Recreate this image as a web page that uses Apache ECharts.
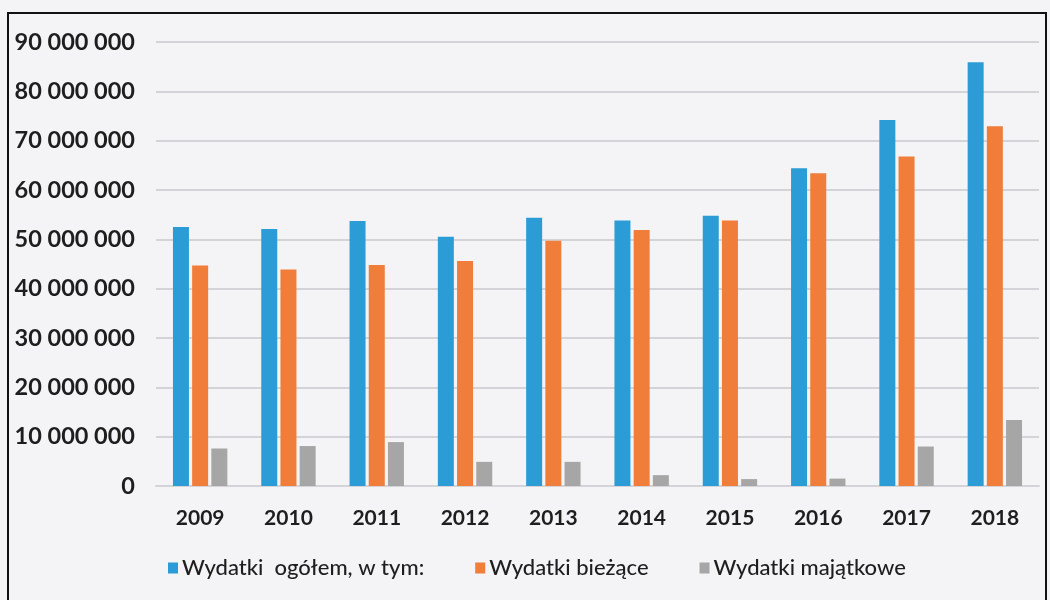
<!DOCTYPE html>
<html>
<head>
<meta charset="utf-8">
<script src="https://cdn.jsdelivr.net/npm/echarts@6/dist/echarts.min.js"></script>
<style>
html,body{margin:0;padding:0;background:#f4f4f6;}
#chart{width:1050px;height:600px;}
</style>
</head>
<body>
<div id="chart"></div>
<script>
const years = ['2009','2010','2011','2012','2013','2014','2015','2016','2017','2018'];
const seriesNames = ['Wydatki  ogółem, w tym:', 'Wydatki bieżące', 'Wydatki majątkowe'];
const totalExp = [52500000, 52100000, 53700000, 50500000, 54400000, 53800000, 54800000, 64400000, 74200000, 85900000];
const currentExp = [44700000, 43900000, 44800000, 45600000, 49700000, 51900000, 53800000, 63400000, 66800000, 72900000];
const capitalExp = [7600000, 8100000, 8900000, 4900000, 4900000, 2200000, 1400000, 1500000, 8000000, 13400000];
const colors = ['#2b9cd5', '#f07d3a', '#a6a6a6'];

const chart = echarts.init(document.getElementById('chart'), null, {renderer: 'canvas'});
const fmt = v => String(v).replace(/\B(?=(\d{3})+(?!\d))/g, ' ');
const mk = (name, data, c) => ({
  name, type: 'bar', data, barWidth: 16, barGap: '20%',
  itemStyle: {color: c}
});
chart.setOption({
  backgroundColor: '#f4f4f6',
  animation: false,
  graphic: [{
    type: 'polyline', silent: true,
    shape: {points: [[8, 600], [8, 13], [1046, 13], [1046, 600]]},
    style: {stroke: '#111', lineWidth: 2, fill: null}
  }],
  grid: {left: 156, right: 11, top: 42, bottom: 114},
  legend: {
    bottom: 16, left: 163,
    itemWidth: 10, itemHeight: 11, itemGap: 51,
    icon: 'rect',
    textStyle: {fontFamily: 'Lato', fontSize: 22, color: '#1e1e1e', fontWeight: 500, padding: [0, 0, 0, -1]},
    data: seriesNames
  },
  xAxis: {
    type: 'category', data: years,
    axisLine: {show: true, lineStyle: {color: '#d4d4d8', width: 2}},
    axisTick: {show: false},
    axisLabel: {fontFamily: 'Lato', fontSize: 21, fontWeight: 'bold', color: '#1e1e1e', margin: 22}
  },
  yAxis: {
    type: 'value', min: 0, max: 90000000, interval: 10000000,
    axisLine: {show: false}, axisTick: {show: false},
    splitLine: {lineStyle: {color: '#d4d4d8', width: 2}},
    axisLabel: {fontFamily: 'Lato', fontSize: 23.5, fontWeight: 'bold', color: '#1e1e1e', margin: 21, formatter: fmt}
  },
  series: [
    mk(seriesNames[0], totalExp, colors[0]),
    mk(seriesNames[1], currentExp, colors[1]),
    mk(seriesNames[2], capitalExp, colors[2])
  ]
});
</script>
</body>
</html>
